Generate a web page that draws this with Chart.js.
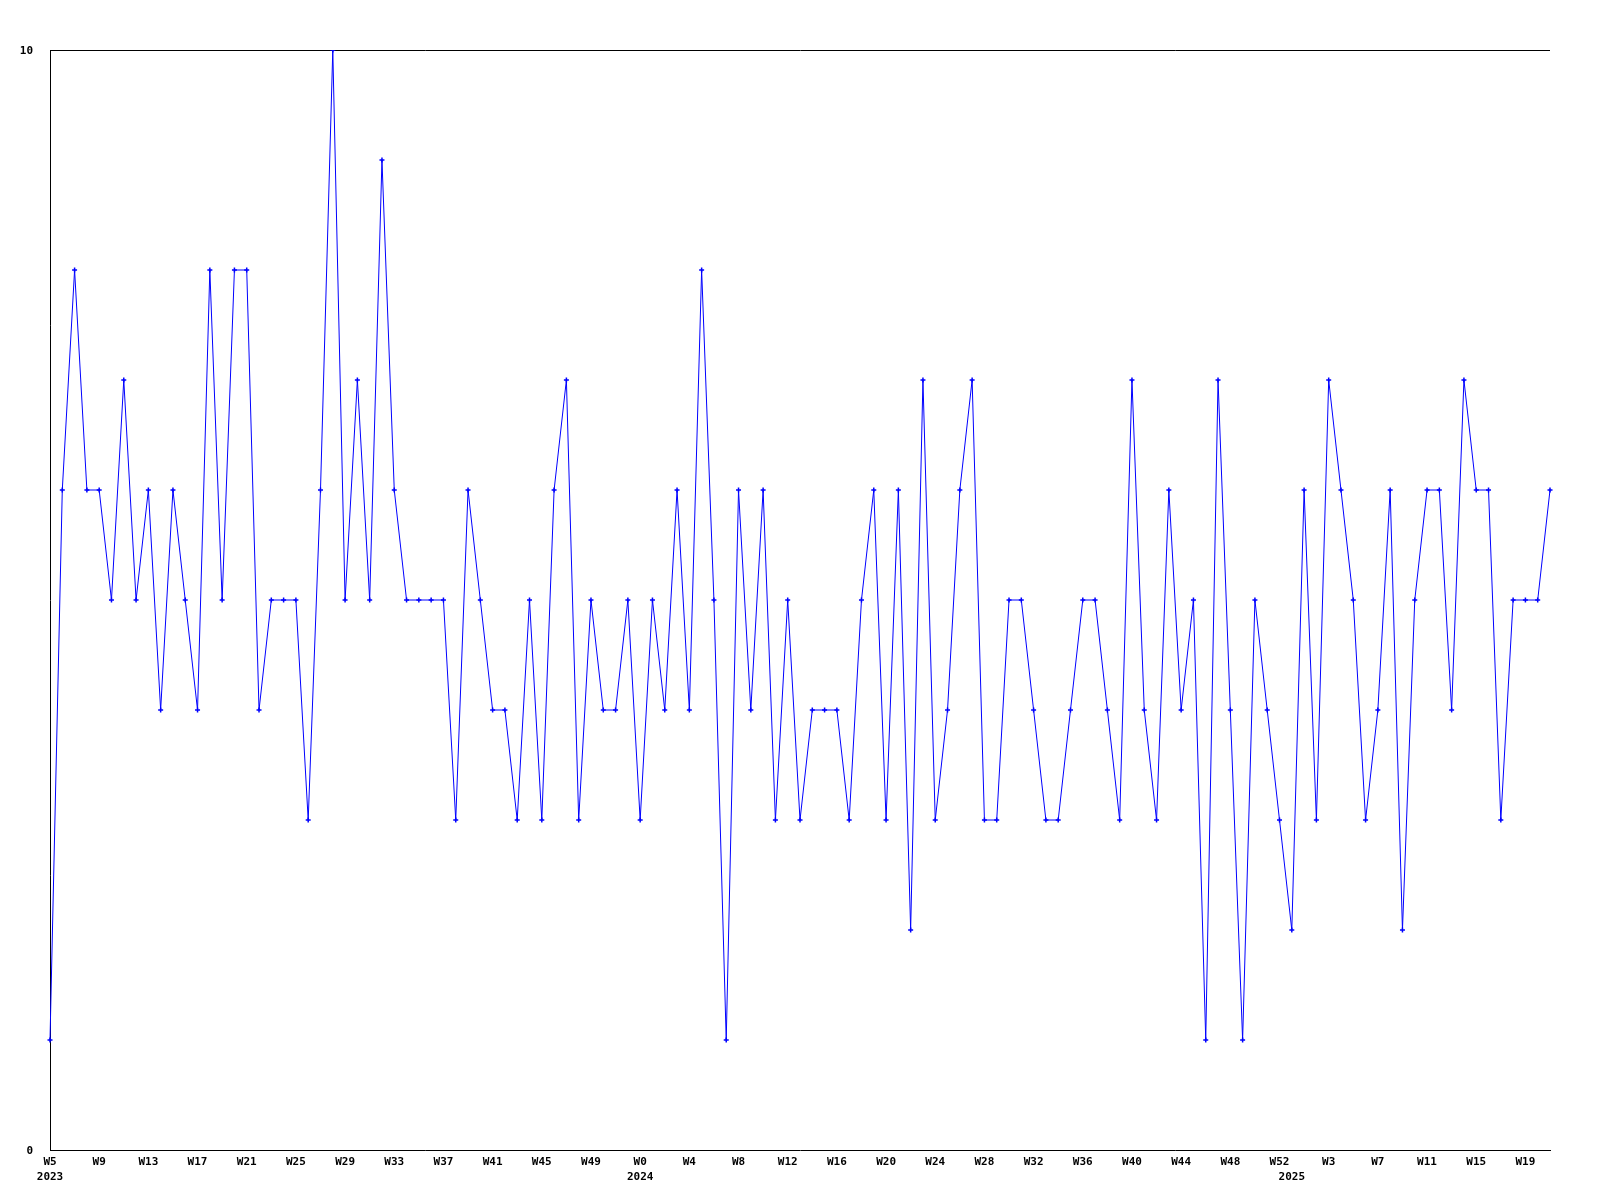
<!DOCTYPE html>
<html>
<head>
<meta charset="utf-8">
<title>Weekly chart</title>
<script src="https://cdn.jsdelivr.net/npm/chart.js@4.4.1/dist/chart.umd.min.js"></script>
<style>
  html, body { margin: 0; padding: 0; background: #fff; }
  canvas { display: block; }
</style>
</head>
<body>
<canvas id="weekChart" width="1600" height="1200"></canvas>
<script>
// categories: year-week
const weekLabels = [
    '2023-W5', '2023-W6', '2023-W7', '2023-W8', '2023-W9', '2023-W10', '2023-W11', '2023-W12',
    '2023-W13', '2023-W14', '2023-W15', '2023-W16', '2023-W17', '2023-W18', '2023-W19', '2023-W20',
    '2023-W21', '2023-W22', '2023-W23', '2023-W24', '2023-W25', '2023-W26', '2023-W27', '2023-W28',
    '2023-W29', '2023-W30', '2023-W31', '2023-W32', '2023-W33', '2023-W34', '2023-W35', '2023-W36',
    '2023-W37', '2023-W38', '2023-W39', '2023-W40', '2023-W41', '2023-W42', '2023-W43', '2023-W44',
    '2023-W45', '2023-W46', '2023-W47', '2023-W48', '2023-W49', '2023-W50', '2023-W51', '2023-W52',
    '2024-W0', '2024-W1', '2024-W2', '2024-W3', '2024-W4', '2024-W5', '2024-W6', '2024-W7',
    '2024-W8', '2024-W9', '2024-W10', '2024-W11', '2024-W12', '2024-W13', '2024-W14', '2024-W15',
    '2024-W16', '2024-W17', '2024-W18', '2024-W19', '2024-W20', '2024-W21', '2024-W22', '2024-W23',
    '2024-W24', '2024-W25', '2024-W26', '2024-W27', '2024-W28', '2024-W29', '2024-W30', '2024-W31',
    '2024-W32', '2024-W33', '2024-W34', '2024-W35', '2024-W36', '2024-W37', '2024-W38', '2024-W39',
    '2024-W40', '2024-W41', '2024-W42', '2024-W43', '2024-W44', '2024-W45', '2024-W46', '2024-W47',
    '2024-W48', '2024-W49', '2024-W50', '2024-W51', '2024-W52',
    '2025-W0', '2025-W1', '2025-W2', '2025-W3', '2025-W4', '2025-W5', '2025-W6', '2025-W7',
    '2025-W8', '2025-W9', '2025-W10', '2025-W11', '2025-W12', '2025-W13', '2025-W14', '2025-W15',
    '2025-W16', '2025-W17', '2025-W18', '2025-W19', '2025-W20', '2025-W21'
];

const weekValues = [
    1, 6, 8, 6, 6, 5, 7, 5, 6, 4,
    6, 5, 4, 8, 5, 8, 8, 4, 5, 5,
    5, 3, 6, 10, 5, 7, 5, 9, 6, 5,
    5, 5, 5, 3, 6, 5, 4, 4, 3, 5,
    3, 6, 7, 3, 5, 4, 4, 5, 3, 5,
    4, 6, 4, 8, 5, 1, 6, 4, 6, 3,
    5, 3, 4, 4, 4, 3, 5, 6, 3, 6,
    2, 7, 3, 4, 6, 7, 3, 3, 5, 5,
    4, 3, 3, 4, 5, 5, 4, 3, 7, 4,
    3, 6, 4, 5, 1, 7, 4, 1, 5, 4,
    3, 2, 6, 3, 7, 6, 5, 3, 4, 6,
    2, 5, 6, 6, 4, 7, 6, 6, 3, 5,
    5, 5, 6
];

const yTicks = [0, 10];

const tickFont = { family: '"DejaVu Sans Mono", monospace', size: 11, weight: 'bold', lineHeight: 15 / 11 };

function tickLabel(index) {
    const [year, week] = weekLabels[index].split('-');
    const prevYear = index > 0 ? weekLabels[index - 1].split('-')[0] : null;
    const showWeek = index % 4 === 0;
    const showYear = year !== prevYear;
    if (!showWeek && !showYear) return null;
    return [showWeek ? week : '', showYear ? year : ''];
}

const ctx = document.getElementById('weekChart').getContext('2d');
new Chart(ctx, {
    type: 'line',
    data: {
        labels: weekLabels,
        datasets: [{
            data: weekValues,
            borderColor: '#0000ff',
            backgroundColor: '#0000ff',
            borderWidth: 1,
            tension: 0,
            fill: false,
            pointStyle: 'cross',
            pointRadius: 2.5,
            pointBorderWidth: 1.5,
            pointBorderColor: '#0000ff',
            pointHoverRadius: 2.5
        }]
    },
    options: {
        responsive: false,
        animation: false,
        layout: { padding: { top: 50, right: 50, left: 0, bottom: 0 } },
        plugins: {
            legend: { display: false },
            tooltip: { enabled: false }
        },
        scales: {
            x: {
                offset: false,
                grid: { display: false, drawTicks: false },
                border: { display: true, color: '#000', width: 1 },
                ticks: {
                    autoSkip: false,
                    maxRotation: 0,
                    minRotation: 0,
                    padding: 5,
                    color: '#000',
                    font: tickFont,
                    callback: (value, index) => tickLabel(index)
                },
                afterFit: scale => { scale.height = 50; }
            },
            y: {
                min: yTicks[0],
                max: yTicks[yTicks.length - 1],
                afterBuildTicks: scale => { scale.ticks = yTicks.map(v => ({ value: v })); },
                grid: {
                    drawTicks: false,
                    lineWidth: 1,
                    color: c => c.tick && c.tick.value === yTicks[yTicks.length - 1] ? '#000' : 'rgba(0,0,0,0)'
                },
                border: { display: true, color: '#000', width: 1 },
                ticks: {
                    padding: 17,
                    labelOffset: 1,
                    color: '#000',
                    font: tickFont
                },
                afterFit: scale => { scale.width = 50; }
            }
        }
    }
});
</script>
</body>
</html>
